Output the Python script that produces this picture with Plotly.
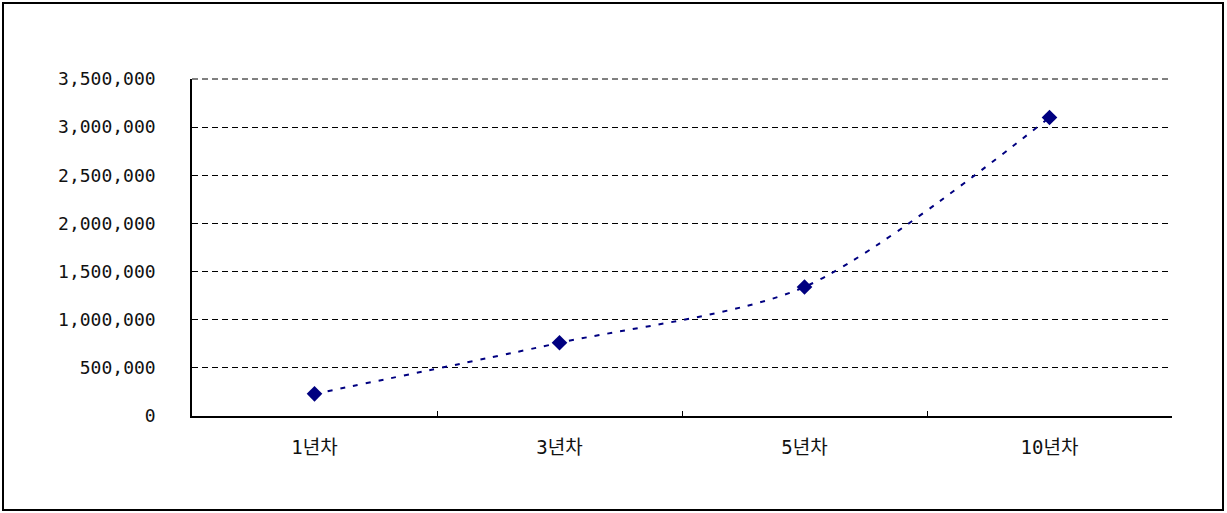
import plotly.graph_objects as go

categories = ["1년차", "3년차", "5년차", "10년차"]
values = [230000, 760000, 1340000, 3100000]
y_ticks = [0, 500000, 1000000, 1500000, 2000000, 2500000, 3000000, 3500000]

W, H = 1227, 513
L, R, T, B = 192, 55, 79, 97
pw, ph = W - L - R, H - T - B

fig = go.Figure()
fig.add_trace(go.Scatter(
    x=categories, y=values, mode="lines+markers",
    line=dict(color="#000080", width=2, dash="5px,8px", shape="spline", smoothing=0.8),
    marker=dict(symbol="diamond", size=12, color="#000080"),
    showlegend=False, hoverinfo="skip",
))

yfont = dict(family="DejaVu Sans Mono, Noto Sans CJK KR, monospace", size=18, color="#111111")
xfont = dict(family="DejaVu Sans Mono, Noto Sans CJK KR, monospace", size=19, color="#111111")
fig.update_layout(
    width=W, height=H,
    margin=dict(l=L, r=R, t=T, b=B),
    paper_bgcolor="white", plot_bgcolor="white",
    xaxis=dict(
        type="category", range=[-0.5, 3.5], showgrid=False,
        showline=True, linecolor="black", linewidth=1.5,
        ticks="inside", tickson="boundaries", ticklen=5, tickcolor="black",
        tickfont=xfont, ticklabelstandoff=13,
    ),
    yaxis=dict(
        range=[0, 3500000], tickvals=y_ticks, tickformat=",",
        showgrid=True, gridcolor="black", gridwidth=1, griddash="6px,4px",
        showline=True, linecolor="black", linewidth=1.5,
        ticks="", zeroline=False, tickfont=yfont, ticklabelstandoff=31,
    ),
    shapes=[
        dict(
            type="rect", xref="paper", yref="paper",
            x0=(3 - L) / pw, x1=(1223 - L) / pw,
            y0=(T + ph - 510) / ph, y1=(T + ph - 3) / ph,
            line=dict(color="black", width=2), layer="below",
        ),
        dict(
            type="line", xref="paper", yref="paper",
            x0=0, x1=1, y0=1, y1=1,
            line=dict(color="black", width=1, dash="6px,4px"), layer="below",
        ),
    ],
)

fig.write_html(
    "out.html",
    config={"displayModeBar": False},
    post_script="document.body.style.margin='0';document.body.style.padding='0';",
)
